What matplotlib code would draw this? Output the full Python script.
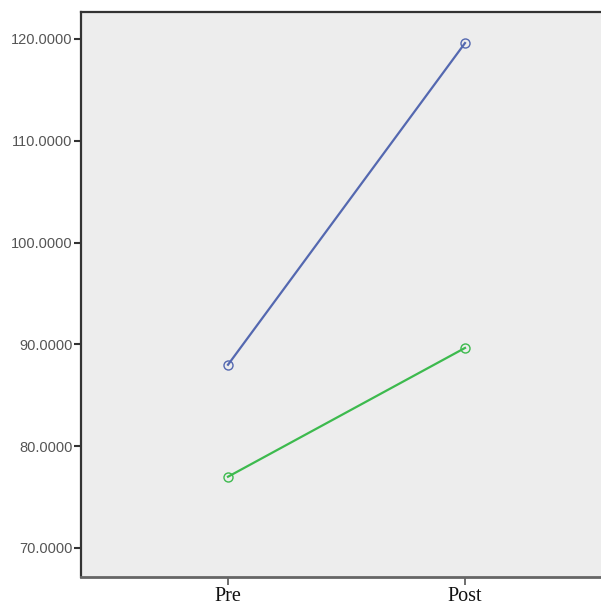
import matplotlib
matplotlib.use("Agg")
import matplotlib.pyplot as plt

# data
times = ["Pre", "Post"]
group_a = [88.0, 119.6]
group_b = [77.0, 89.65]
yticks = [70, 80, 90, 100, 110, 120]

fig = plt.figure(figsize=(6.01, 6.06), dpi=100)
ax = fig.add_axes([81 / 601, 29 / 606, 520 / 601, 565 / 606])
ax.set_facecolor("#ededed")

x = list(range(len(times)))
ax.plot(x, group_a, color="#5468b0", lw=1.6, marker="o", ms=6.5,
        mfc="none", mec="#5468b0", mew=1.0)
ax.plot(x, group_b, color="#3dba4e", lw=1.6, marker="o", ms=6.5,
        mfc="none", mec="#3dba4e", mew=1.0)

ax.set_xlim(-147 / 237, 1 + 136 / 237)
ax.set_ylim(67.15, 122.65)
ax.set_yticks(yticks)
ax.set_yticklabels(["%.4f" % v for v in yticks], fontsize=10.5,
                   color="#555555", family="Liberation Sans")
ax.set_xticks(x)
ax.set_xticklabels(times, fontsize=14.5, family="Liberation Serif", color="#111111")

ax.spines["right"].set_visible(False)
for s in ["left", "top"]:
    ax.spines[s].set_color("#333333")
    ax.spines[s].set_linewidth(1.6)
ax.spines["bottom"].set_color("#666666")
ax.spines["bottom"].set_linewidth(2.0)
ax.tick_params(axis="y", length=5, width=1.5, color="#333333", pad=1)
ax.tick_params(axis="x", length=6, width=1.2, color="#555555", pad=1)

fig.savefig("out.png", dpi=100)
